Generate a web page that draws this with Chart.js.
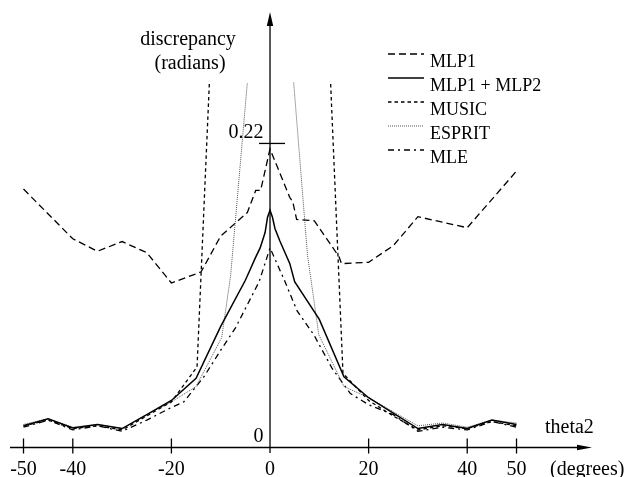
<!DOCTYPE html>
<html>
<head>
<meta charset="utf-8">
<script src="https://cdn.jsdelivr.net/npm/chart.js@4.4.1/dist/chart.umd.min.js"></script>
<style>
body{margin:0;background:#fff}
#grafico{display:block}
</style>
</head>
<body>
<canvas id="grafico" width="628" height="477"></canvas>
<script>
// series (theta2 en grados, discrepancia en radianes)
const nombres=['MLP1','MLP1 + MLP2','MUSIC','ESPRIT','MLE']

const angulosMLP1=[-50,-40,-35,-30,-25,-20,-14,-10,-4.6,-2.9,-1.9,0,4,4.6,5.4,9,14,14.5,20,25,30,40,50]
const valoresMLP1=[0.187,0.151,0.142,0.149,0.141,0.119,0.127,0.153,0.170,0.186,0.186,0.216,0.181,0.178,0.165,0.164,0.138,0.133,0.134,0.146,0.167,0.159,0.200]

const angulosMLP12=[-50,-45,-40,-35,-30,-25,-20,-15,-10,-5,-4,-3,-2,-1,-0.5,0,0.5,1,2,3,4,5,10,15,20,25,30,35,40,45,50]
const valoresMLP12=[0.0157,0.0208,0.0142,0.0167,0.0137,0.0238,0.034,0.0501,0.0876,0.121,0.129,0.137,0.1444,0.1555,0.1666,0.1717,0.1666,0.1585,0.1494,0.1413,0.1332,0.120,0.0927,0.0511,0.036,0.0248,0.0137,0.0167,0.0137,0.0198,0.0167]

const angulosMUSIC=[-50,-45,-40,-35,-30,-25,-20,-14.8,-12.3,0,12.3,14.8,20,25,30,35,40,45,50]
const valoresMUSIC=[0.0157,0.0198,0.0137,0.0157,0.0127,0.0228,0.033,0.0583,0.264,null,0.263,0.0537,0.034,0.0228,0.0127,0.0157,0.0137,0.0188,0.0157]

const angulosESPRIT=[-50,-45,-40,-35,-30,-25,-20,-15,-9.8,-8,-4.6,0,4.8,7.6,9.9,15,20,25,30,35,40,45,50]
const valoresESPRIT=[0.0167,0.0208,0.0147,0.0167,0.0137,0.0238,0.033,0.0441,0.0795,0.124,0.264,null,0.264,0.1393,0.0815,0.0441,0.036,0.0258,0.0157,0.0177,0.0147,0.0198,0.0177]

const angulosMLE=[-50,-45,-40,-35,-30,-25,-20,-17.5,-13.4,-10,-7,-2.2,0,2.8,5.5,8.9,12.6,16.3,20,25,30,35,40,45,50]
const valoresMLE=[0.0147,0.0198,0.0127,0.0157,0.0117,0.0198,0.029,0.033,0.0512,0.0704,0.0866,0.120,0.1444,0.122,0.0988,0.0815,0.0572,0.039,0.031,0.0238,0.0117,0.0147,0.0127,0.0188,0.0147]

const ticksX=[-50,-40,-20,0,20,40,50]
const ticksY=[0,0.22]

const fuente='"Liberation Serif", "DejaVu Serif", serif'

function puntos(xs,ys){
    return xs.map((x,i)=>({x:x,y:ys[i]}))
}

// ejes con flecha, marcas y textos
const ejes={
    id:'ejes',
    afterDatasetsDraw(chart){
        const ctx=chart.ctx
        const sx=chart.scales.x
        const sy=chart.scales.y
        const a=chart.chartArea
        const x0=sx.getPixelForValue(0)
        const y0=sy.getPixelForValue(0)
        ctx.save()
        ctx.strokeStyle='#000'
        ctx.fillStyle='#000'
        ctx.lineWidth=1.3
        ctx.setLineDash([])

        // eje horizontal
        ctx.beginPath()
        ctx.moveTo(a.left,y0)
        ctx.lineTo(a.right-10,y0)
        ctx.stroke()
        ctx.beginPath()
        ctx.moveTo(a.right,y0)
        ctx.lineTo(a.right-15,y0-2.8)
        ctx.lineTo(a.right-15,y0+2.8)
        ctx.closePath()
        ctx.fill()

        // eje vertical
        ctx.beginPath()
        ctx.moveTo(x0,a.bottom)
        ctx.lineTo(x0,a.top+10)
        ctx.stroke()
        ctx.beginPath()
        ctx.moveTo(x0,a.top)
        ctx.lineTo(x0-3.2,a.top+14)
        ctx.lineTo(x0+3.2,a.top+14)
        ctx.closePath()
        ctx.fill()

        ctx.font='20px '+fuente
        ctx.textAlign='center'
        ctx.textBaseline='alphabetic'
        ticksX.forEach(t=>{
            const px=sx.getPixelForValue(t)
            if(t!==0){
                ctx.beginPath()
                ctx.moveTo(px,y0-9)
                ctx.lineTo(px,y0+6)
                ctx.stroke()
            }
            ctx.fillText(String(t),px,y0+27.5)
        })

        ctx.textAlign='right'
        ticksY.forEach(v=>{
            const py=sy.getPixelForValue(v)
            if(v!==0){
                ctx.beginPath()
                ctx.moveTo(x0-11,py)
                ctx.lineTo(x0+15,py)
                ctx.stroke()
            }
            ctx.fillText(String(v),x0-6.5,py-5)
        })

        ctx.textAlign='center'
        ctx.fillText('discrepancy',x0-82,45)
        ctx.fillText('(radians)',x0-80,69)
        ctx.textAlign='left'
        ctx.fillText('theta2',545,433)
        ctx.fillText('(degrees)',550,y0+27.5)

        // leyenda
        ctx.font='18px '+fuente
        chart.data.datasets.forEach((ds,i)=>{
            const base=67+i*24
            ctx.strokeStyle=ds.borderColor
            ctx.lineWidth=ds.borderWidth
            ctx.setLineDash(ds.borderDash||[])
            ctx.beginPath()
            ctx.moveTo(388,base-13)
            ctx.lineTo(424,base-13)
            ctx.stroke()
            ctx.fillStyle='#000'
            ctx.fillText(ds.label,430,base)
        })
        ctx.restore()
    }
}

function grafico_discrepancia(){
    const ctx=document.getElementById('grafico')
    new Chart(ctx,{
        type:'line',
        data:{
            datasets:[
                {label:nombres[0],data:puntos(angulosMLP1,valoresMLP1),borderColor:'#000',borderWidth:1.3,borderDash:[7,4]},
                {label:nombres[1],data:puntos(angulosMLP12,valoresMLP12),borderColor:'#000',borderWidth:1.5},
                {label:nombres[2],data:puntos(angulosMUSIC,valoresMUSIC),borderColor:'#000',borderWidth:1.3,borderDash:[3.5,3]},
                {label:nombres[3],data:puntos(angulosESPRIT,valoresESPRIT),borderColor:'#555',borderWidth:1,borderDash:[1,1]},
                {label:nombres[4],data:puntos(angulosMLE,valoresMLE),borderColor:'#000',borderWidth:1.3,borderDash:[6,4,2,4]}
            ]
        },
        options:{
            responsive:false,
            animation:false,
            devicePixelRatio:1,
            layout:{padding:{left:10,right:36,top:12,bottom:24}},
            elements:{
                line:{tension:0,fill:false},
                point:{radius:0}
            },
            scales:{
                x:{type:'linear',min:-52.74,max:65.31,display:false},
                y:{type:'linear',min:-0.00398,max:0.3151,display:false}
            },
            plugins:{
                legend:{display:false},
                tooltip:{enabled:false}
            }
        },
        plugins:[ejes]
    })
}

grafico_discrepancia()
</script>
</body>
</html>
